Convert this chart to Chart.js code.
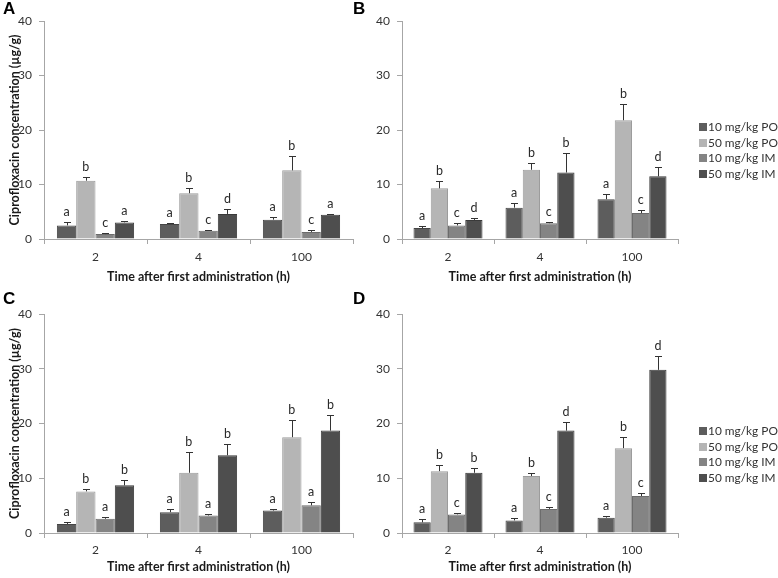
<!DOCTYPE html>
<html>
<head>
<meta charset="utf-8">
<script src="https://cdn.jsdelivr.net/npm/chart.js@4/dist/chart.umd.min.js"></script>
<style>
  html, body { margin: 0; padding: 0; background: #fff; }
  #wrap { position: relative; width: 778px; height: 578px; overflow: hidden; font-family: Lato, "Liberation Sans", sans-serif; }
  canvas { position: absolute; left: 0; top: 0; }
  .plabel { position: absolute; font: bold 17px "Liberation Sans", Arial, sans-serif; color: #000; }
  .legend { position: absolute; font-size: 12px; color: #333; }
  .legend div { height: 15.7px; line-height: 15.7px; white-space: nowrap; }
  .legend span.sw { display: inline-block; width: 8px; height: 8px; margin-right: 1px; vertical-align: 0px; }
</style>
</head>
<body>
<div id="wrap">
  <canvas id="cA" width="778" height="578"></canvas>
  <canvas id="cB" width="778" height="578"></canvas>
  <canvas id="cC" width="778" height="578"></canvas>
  <canvas id="cD" width="778" height="578"></canvas>
  <div class="plabel" style="left:3px;top:-1px;">A</div>
  <div class="plabel" style="left:353px;top:-1px;">B</div>
  <div class="plabel" style="left:3px;top:289px;">C</div>
  <div class="plabel" style="left:353px;top:289px;">D</div>
  <div class="legend" id="legB" style="left:699px;top:119px;"></div>
  <div class="legend" id="legD" style="left:699px;top:423px;"></div>
</div>
<script>
// ---------- data ----------
const categories = ['2', '4', '100'];
const seriesNames = ['10 mg/kg PO', '50 mg/kg PO', '10 mg/kg IM', '50 mg/kg IM'];
const yTicks = [0, 10, 20, 30, 40];

// Panel A
const A_10PO = [2.5, 2.75, 3.55];   const A_10PO_sd = [0.55, 0.15, 0.4];
const A_50PO = [10.7, 8.4, 12.6];   const A_50PO_sd = [0.6, 0.9, 2.6];
const A_10IM = [0.9, 1.5, 1.3];     const A_10IM_sd = [0.25, 0.15, 0.3];
const A_50IM = [3.05, 4.6, 4.45];   const A_50IM_sd = [0.3, 0.95, 0.15];
const A_letters = [['a','b','c','a'], ['a','b','c','d'], ['a','b','c','a']];

// Panel B
const B_10PO = [2.0, 5.75, 7.3];    const B_10PO_sd = [0.4, 0.85, 1.0];
const B_50PO = [9.3, 12.7, 21.8];   const B_50PO_sd = [1.4, 1.2, 2.9];
const B_10IM = [2.5, 2.9, 4.75];    const B_10IM_sd = [0.35, 0.3, 0.5];
const B_50IM = [3.5, 12.2, 11.5];   const B_50IM_sd = [0.35, 3.5, 1.7];
const B_letters = [['a','b','c','d'], ['a','b','c','b'], ['a','b','c','d']];

// Panel C
const C_10PO = [1.65, 3.8, 4.1];    const C_10PO_sd = [0.35, 0.6, 0.3];
const C_50PO = [7.6, 11.0, 17.5];   const C_50PO_sd = [0.5, 3.75, 3.1];
const C_10IM = [2.6, 3.2, 5.05];    const C_10IM_sd = [0.4, 0.2, 0.6];
const C_50IM = [8.7, 14.2, 18.7];   const C_50IM_sd = [0.9, 2.1, 2.8];
const C_letters = [['a','b','a','b'], ['a','b','a','b'], ['a','b','a','b']];

// Panel D
const D_10PO = [1.95, 2.3, 2.8];    const D_10PO_sd = [0.65, 0.5, 0.3];
const D_50PO = [11.3, 10.4, 15.5];  const D_50PO_sd = [1.1, 0.6, 2.1];
const D_10IM = [3.4, 4.4, 6.75];    const D_10IM_sd = [0.2, 0.3, 0.5];
const D_50IM = [11.0, 18.7, 29.8];  const D_50IM_sd = [0.9, 1.6, 2.6];
const D_letters = [['a','b','c','b'], ['a','b','c','d'], ['a','b','c','d']];

// ---------- styles ----------
const fills   = ['#5d5d5d', '#b5b5b5', '#848484', '#4e4e4e'];
const borders = ['#454545', '#9c9c9c', '#6c6c6c', '#3a3a3a'];
const axisColor = '#a6a6a6';
const FONT = 'Lato, "Liberation Sans", sans-serif';

const errPlugin = {
  id: 'errLetters',
  afterDatasetsDraw(chart) {
    const ctx = chart.ctx;
    const ys = chart.scales.y;
    const letters = chart.options.plugins.errLetters.letters;
    ctx.save();
    chart.data.datasets.forEach((ds, i) => {
      const meta = chart.getDatasetMeta(i);
      meta.data.forEach((el, j) => {
        const top = ys.getPixelForValue(ds.data[j] + ds.sd[j]);
        ctx.strokeStyle = '#333';
        ctx.lineWidth = 1;
        ctx.beginPath();
        ctx.moveTo(Math.round(el.x) + 0.5, el.y);
        ctx.lineTo(Math.round(el.x) + 0.5, Math.round(top) + 0.5);
        ctx.moveTo(Math.round(el.x) - 3, Math.round(top) + 0.5);
        ctx.lineTo(Math.round(el.x) + 4, Math.round(top) + 0.5);
        ctx.stroke();
        ctx.fillStyle = '#2a2a2a';
        ctx.font = '12.5px ' + FONT;
        ctx.textAlign = 'center';
        ctx.textBaseline = 'alphabetic';
        ctx.fillText(letters[j][i], el.x, top - 6);
      });
    });
    ctx.restore();
  }
};

function makeChart(id, series, sds, letters, box, showYTitle) {
  const datasets = series.map((d, i) => ({
    label: seriesNames[i],
    data: d,
    sd: sds[i],
    backgroundColor: fills[i],
    borderColor: borders[i],
    borderWidth: 1,
    categoryPercentage: 0.75,
    barPercentage: 1.0
  }));
  new Chart(document.getElementById(id), {
    type: 'bar',
    data: { labels: categories, datasets },
    options: {
      responsive: false,
      animation: false,
      devicePixelRatio: 1,
      layout: { padding: { left: box.padL, top: box.top, right: 778 - box.right, bottom: box.padB } },
      plugins: {
        legend: { display: false },
        tooltip: { enabled: false },
        errLetters: { letters }
      },
      scales: {
        x: {
          grid: { drawOnChartArea: false, drawTicks: true, tickLength: 5, color: axisColor, offset: true },
          border: { display: true, color: axisColor, width: 1 },
          ticks: { color: '#333', font: { family: FONT, size: 12 }, padding: box.xTickPad },
          title: { display: true, text: 'Time after first administration (h)', color: '#1a1a1a',
                   font: { family: FONT, size: 12.5, weight: 'bold' }, padding: { top: 4, bottom: 4 } },
          afterFit: s => { s.height = box.xH; }
        },
        y: {
          min: 0, max: 40,
          afterBuildTicks: s => { s.ticks = yTicks.map(v => ({ value: v })); },
          grid: { drawOnChartArea: false, drawTicks: true, tickLength: 5, color: axisColor },
          border: { display: true, color: axisColor, width: 1 },
          ticks: { color: '#333', font: { family: FONT, size: 12 }, padding: 7 },
          title: { display: showYTitle, text: 'Ciprofloxacin concentration (µg/g)', color: '#1a1a1a',
                   font: { family: FONT, size: 12.5, weight: 'bold' }, padding: { top: 3, bottom: 3 } },
          afterFit: s => { s.width = box.yW; }
        }
      }
    },
    plugins: [errPlugin]
  });
}

makeChart('cA', [A_10PO, A_50PO, A_10IM, A_50IM], [A_10PO_sd, A_50PO_sd, A_10IM_sd, A_50IM_sd], A_letters,
  { padL: 4, yW: 40, top: 21, right: 353, xH: 49, padB: 578 - 288, xTickPad: 6 }, true);
makeChart('cB', [B_10PO, B_50PO, B_10IM, B_50IM], [B_10PO_sd, B_50PO_sd, B_10IM_sd, B_50IM_sd], B_letters,
  { padL: 370, yW: 32, top: 21, right: 678, xH: 49, padB: 578 - 288, xTickPad: 6 }, false);
makeChart('cC', [C_10PO, C_50PO, C_10IM, C_50IM], [C_10PO_sd, C_50PO_sd, C_10IM_sd, C_50IM_sd], C_letters,
  { padL: 4, yW: 40, top: 314, right: 353, xH: 45, padB: 0, xTickPad: 5 }, true);
makeChart('cD', [D_10PO, D_50PO, D_10IM, D_50IM], [D_10PO_sd, D_50PO_sd, D_10IM_sd, D_50IM_sd], D_letters,
  { padL: 370, yW: 32, top: 314, right: 678, xH: 45, padB: 0, xTickPad: 5 }, false);

function buildLegend(id) {
  const el = document.getElementById(id);
  const texts = [];
  seriesNames.forEach((n, i) => {
    const row = document.createElement('div');
    const sw = document.createElement('span');
    sw.className = 'sw';
    sw.style.background = fills[i];
    const tx = document.createElement('span');
    tx.textContent = n;
    row.appendChild(sw);
    row.appendChild(tx);
    el.appendChild(row);
    texts.push(tx);
  });
  // fit the widest label to end just inside the right edge
  const w = texts[0].getBoundingClientRect().width;
  const target = 70;
  el.style.fontSize = (12 * target / w).toFixed(2) + 'px';
}
buildLegend('legB');
buildLegend('legD');
</script>
</body>
</html>
